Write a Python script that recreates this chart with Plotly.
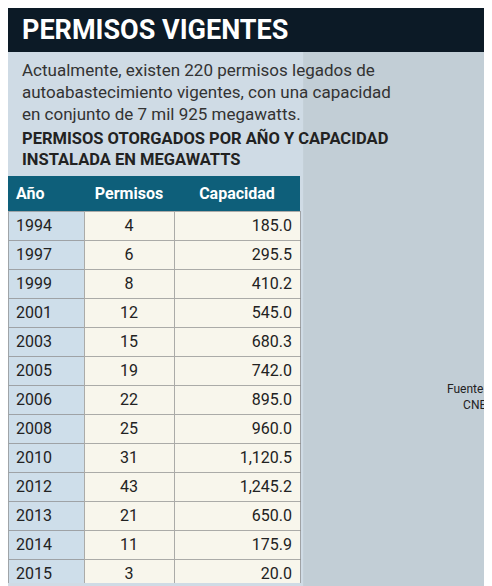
import plotly.graph_objects as go

anios = ["1994","1997","1999","2001","2003","2005","2006","2008","2010","2012","2013","2014","2015"]
permisos = [4,6,8,12,15,19,22,25,31,43,21,11,3]
capacidad = ["185.0","295.5","410.2","545.0","680.3","742.0","895.0","960.0","1,120.5","1,245.2","650.0","175.9","20.0"]
headers = ["Año","Permisos","Capacidad"]

W, H = 492, 586
fig = go.Figure()
n = len(anios)
cream = "rgba(250,248,236,0.95)"
fig.add_trace(go.Table(
    domain=dict(x=[0, 292/W], y=[1-576/H, 1-168/H]),
    columnwidth=[76, 90, 126],
    header=dict(values=[f"<b>{h}</b>" for h in headers], fill_color="#0e5f7a",
                font=dict(color="white", size=16, family="Roboto"),
                align=["left","center","center"], height=29,
                line=dict(color="#0e5f7a", width=0)),
    cells=dict(values=[anios, permisos, capacidad],
               fill_color=[["rgba(205,222,234,0.9)"]*n, [cream]*n, [cream]*n],
               font=dict(color="#222", size=16, family="Roboto"),
               align=["left","center","right"], height=29,
               line=dict(color="rgba(140,140,140,0.7)", width=1)),
))
fig.update_layout(
    width=W, height=H, margin=dict(l=0, r=0, t=0, b=0),
    paper_bgcolor="#cfdbe5", plot_bgcolor="#cfdbe5",
    shapes=[
        dict(type="rect", xref="paper", yref="paper", x0=0, x1=1, y0=1-44/H, y1=1,
             fillcolor="#0c1a26", line=dict(width=0), layer="below"),
        dict(type="rect", xref="paper", yref="paper", x0=0.6, x1=1, y0=0, y1=1-44/H,
             fillcolor="#b9c4cc", line=dict(width=0), layer="below", opacity=0.6),
    ],
    annotations=[
        dict(text="<b>PERMISOS VIGENTES</b>", x=12/W, y=1-22/H, xref="paper", yref="paper",
             xanchor="left", yanchor="middle", showarrow=False,
             font=dict(color="white", size=27, family="Roboto")),
        dict(text="Actualmente, existen 220 permisos legados de<br>autoabastecimiento vigentes, con una capacidad<br>en conjunto de 7 mil 925 megawatts.",
             x=12/W, y=1-50/H, xref="paper", yref="paper", xanchor="left", yanchor="top",
             align="left", showarrow=False, font=dict(color="#333", size=17, family="Roboto")),
        dict(text="<b>PERMISOS OTORGADOS POR AÑO Y CAPACIDAD<br>INSTALADA EN MEGAWATTS</b>",
             x=12/W, y=1-118/H, xref="paper", yref="paper", xanchor="left", yanchor="top",
             align="left", showarrow=False, font=dict(color="#222", size=16.5, family="Roboto")),
        dict(text="Fuente:<br>CNE", x=480/W, y=1-372/H, xref="paper", yref="paper",
             xanchor="right", yanchor="top", align="right", showarrow=False,
             font=dict(color="#222", size=12, family="Roboto")),
    ],
)
fig.write_html("out.html")
